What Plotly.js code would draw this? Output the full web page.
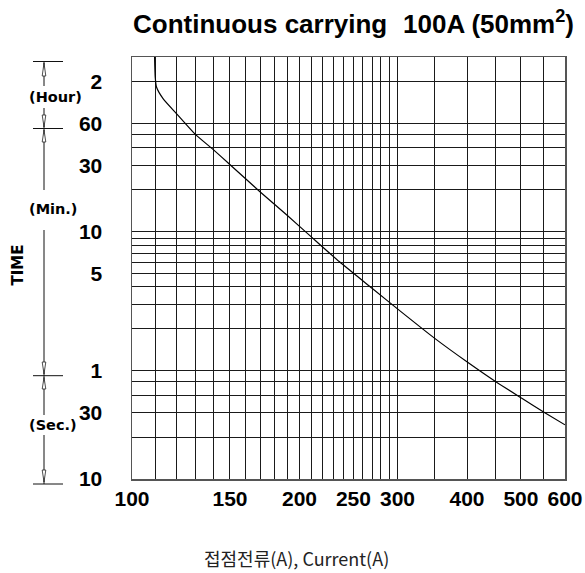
<!DOCTYPE html>
<html>
<head>
<meta charset="utf-8">
<script src="https://cdn.plot.ly/plotly-3.0.1.min.js"></script>
<style>html,body{margin:0;padding:0;background:#fff;}#chart{width:585px;height:573px;}</style>
</head>
<body>
<div id="chart"></div>
<script>
// ---- data (current in A, time in seconds) ----
const currentA = [109.8, 110.1, 110.7, 113.8, 120.3, 130, 140, 150.4, 170, 190, 210, 236, 270, 300, 350, 401, 450, 501, 551, 600];
const timeSec  = [10800, 7700, 6540, 5400, 4220, 3000, 2330, 1800, 1157, 787, 550, 364, 235, 167, 102.5, 69, 50.2, 38.2, 30.1, 24.5];

const xTickVals = [100, 150, 200, 250, 300, 400, 500, 600];
const xTickText = ['100', '150', '200', '250', '300', '400', '500', '600'];
const xMinorGrid = [110,120,130,140,160,170,180,190,210,220,230,240,260,270,280,290,350,450,550];
const yTickVals = [10, 30, 60, 300, 600, 1800, 3600, 7200];
const yTickText = ['10', '30', '1', '5', '10', '30', '60', '2'];
const yMinorGrid = [20,40,50,120,180,240,360,420,480,540,1200,2400,3000];
const yMax = 10800;

// ---- layout geometry ----
const L = 132, T = 57, W = 433, H = 422;
const px = p => (p - L) / W;
const py = p => (T + H - p) / H;

const axisX = 44;
const shapes = [];
function seg(y0, y1) {
  shapes.push({type:'line', xref:'paper', yref:'paper', x0:px(axisX), x1:px(axisX), y0:py(y0), y1:py(y1), line:{color:'#111', width:1}});
}
function tick(y) {
  shapes.push({type:'line', xref:'paper', yref:'paper', x0:px(33), x1:px(63), y0:py(y), y1:py(y), line:{color:'#111', width:1}});
}
function arrow(tip, base) {
  const p = 'M ' + px(axisX) + ' ' + py(tip) + ' L ' + px(axisX - 1.8) + ' ' + py(base) + ' L ' + px(axisX + 1.8) + ' ' + py(base) + ' Z';
  shapes.push({type:'path', xref:'paper', yref:'paper', path:p, fillcolor:'#fff', line:{color:'#222', width:0.8}});
}
seg(61.5, 86); seg(108, 190); seg(230, 415); seg(435, 484);
tick(61.5); tick(128.5); tick(375.7); tick(484);
arrow(63, 76); arrow(127, 115); arrow(130, 142); arrow(374, 362); arrow(377.5, 389); arrow(482, 470);

const boldSmall = {family:'DejaVu Sans', size:14.5, color:'#000', weight:'bold'};
const annotations = [
  {text:'Continuous carrying', xref:'paper', yref:'paper', x:px(131), y:py(24), xanchor:'left', yanchor:'middle', showarrow:false,
   font:{family:'Liberation Sans', size:26, color:'#000', weight:'bold'}},
  {text:'100A (50mm<sup>2</sup>)', xref:'paper', yref:'paper', x:px(401), y:py(41), xanchor:'left', yanchor:'bottom', showarrow:false,
   font:{family:'Liberation Sans', size:26, color:'#000', weight:'bold'}},
  {text:'(Hour)', xref:'paper', yref:'paper', x:px(55), y:py(97), xanchor:'center', yanchor:'middle', showarrow:false, font:boldSmall},
  {text:'(Min.)', xref:'paper', yref:'paper', x:px(53), y:py(209), xanchor:'center', yanchor:'middle', showarrow:false, font:boldSmall},
  {text:'(Sec.)', xref:'paper', yref:'paper', x:px(53), y:py(425), xanchor:'center', yanchor:'middle', showarrow:false, font:boldSmall},
  {text:'TIME', xref:'paper', yref:'paper', x:px(17.5), y:py(265), xanchor:'center', yanchor:'middle', textangle:-90, showarrow:false,
   font:{family:'DejaVu Sans', size:15, color:'#000', weight:'bold'}},
  {text:'접점전류(A), Current(A)', xref:'paper', yref:'paper', x:px(296), y:py(558), xanchor:'center', yanchor:'middle', showarrow:false,
   font:{family:'Noto Sans CJK KR', size:18, color:'#222'}}
];

const tickFont = {family:'Liberation Sans', size:21, color:'#000', weight:'bold'};

const trace = {
  x: currentA, y: timeSec, type:'scatter', mode:'lines',
  line:{color:'#000', width:1.2, shape:'spline', smoothing:0.6},
  hoverinfo:'skip', cliponaxis:true
};

const gridCol = '#1a1a1a';
const layout = {
  width:585, height:573,
  margin:{l:L, r:585 - L - W, t:T, b:573 - T - H, pad:0},
  paper_bgcolor:'#fff', plot_bgcolor:'#fff',
  showlegend:false,
  xaxis:{
    type:'log', range:[Math.log10(100), Math.log10(600)],
    tickmode:'array', tickvals:xTickVals, ticktext:xTickText,
    showgrid:true, gridcolor:gridCol, gridwidth:1,
    minor:{tickmode:'array', tickvals:xMinorGrid, showgrid:true, gridcolor:gridCol, gridwidth:1, ticks:''},
    showline:true, mirror:true, linecolor:'#555', linewidth:1.5,
    ticks:'', tickfont:tickFont, ticklabelstandoff:0, zeroline:false, fixedrange:true
  },
  yaxis:{
    type:'log', range:[Math.log10(10), Math.log10(yMax)],
    tickmode:'array', tickvals:yTickVals, ticktext:yTickText,
    showgrid:true, gridcolor:gridCol, gridwidth:1,
    minor:{tickmode:'array', tickvals:yMinorGrid, showgrid:true, gridcolor:gridCol, gridwidth:1, ticks:''},
    showline:true, mirror:true, linecolor:'#555', linewidth:1.5,
    ticks:'', tickfont:tickFont, ticklabelstandoff:24, zeroline:false, fixedrange:true
  },
  shapes:shapes,
  annotations:annotations
};

Plotly.newPlot('chart', [trace], layout, {staticPlot:true, displayModeBar:false});
</script>
</body>
</html>
